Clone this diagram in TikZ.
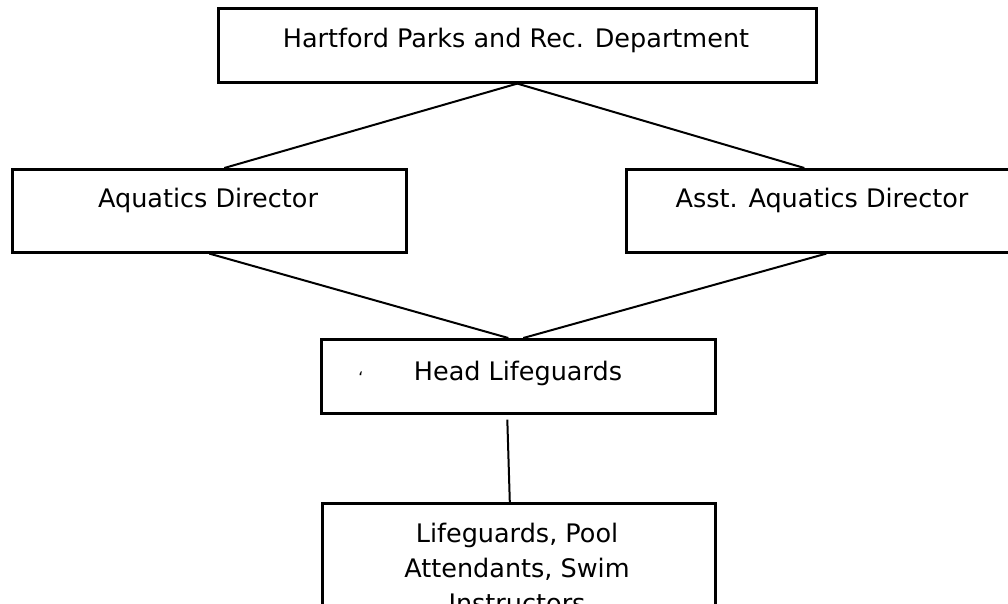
\documentclass[tikz,border=0pt]{standalone}
\usepackage{fontspec}
\setmainfont{DejaVu Sans}
\begin{document}
\begin{tikzpicture}[x=1pt,y=-1pt,
  box/.style={draw, line width=2.6pt, inner sep=0pt, anchor=north west},
  conn/.style={line width=2pt},
  lbl/.style={font=\fontsize{25.5}{35}\selectfont, anchor=base, inner sep=0pt}]
\useasboundingbox (0,0) rectangle (1008,604);
\clip (0,0) rectangle (1008,604);
% boxes
\node[box, minimum width=598pt, minimum height=74pt] (hp) at (217,7) {};
\node[box, minimum width=394pt, minimum height=83pt] (ad) at (11,168) {};
\node[box, minimum width=394pt, minimum height=83pt] (as) at (625,168) {};
\node[box, minimum width=394pt, minimum height=74pt] (hl) at (320,338) {};
\node[box, minimum width=393pt, minimum height=160pt] (lg) at (321,502) {};
% texts
\node[lbl] (thp) at (516,48) {Hartford Parks and Rec. Department};
\node[lbl] (tad) at (208,207) {Aquatics Director};
\node[lbl] (tas) at (822,207) {Asst. Aquatics Director};
\node[lbl] (thl) at (518,380) {Head Lifeguards};
\node[lbl, align=center] (tlg) at (517,612) {Lifeguards, Pool\\Attendants, Swim\\Instructors};
\node[font=\fontsize{16}{16}\selectfont, inner sep=0pt] (mk) at (361,378) {`};
% connectors
\draw[conn] (hp.south) -- ([xshift=15pt]ad.north);
\draw[conn] (hp.south) -- ([xshift=-19pt]as.north);
\draw[conn] (ad.south) -- ([xshift=-10pt]hl.north);
\draw[conn] ([xshift=3pt]as.south) -- ([xshift=5pt]hl.north);
\draw[conn] ([xshift=-11pt,yshift=-5pt]hl.south) -- ([xshift=-9pt]lg.north);
\end{tikzpicture}
\end{document}
